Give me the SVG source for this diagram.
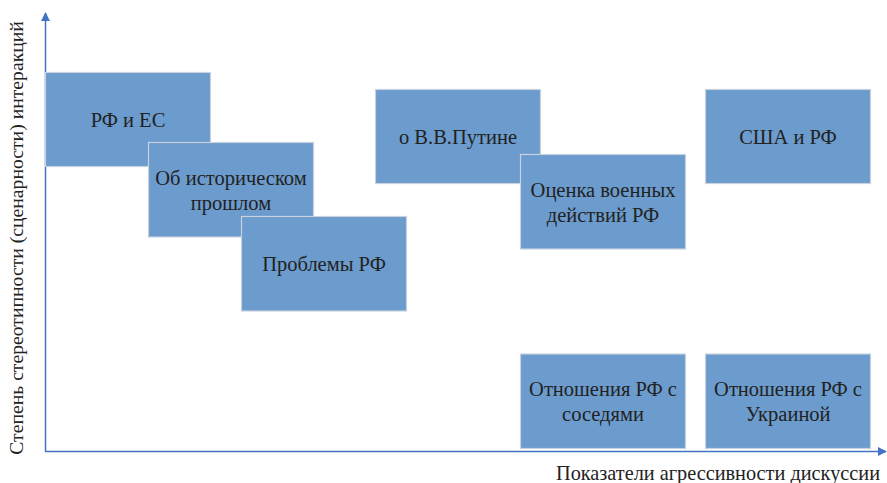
<svg xmlns="http://www.w3.org/2000/svg" width="887" height="483" viewBox="0 0 887 483">
  <style>
    .box { fill: #6c9bcd; stroke: #c8d2de; stroke-width: 1.2; }
    .lbl { font-family: 'Liberation Serif', 'DejaVu Serif', serif; font-size: 20.5px; fill: #222222; text-anchor: middle; }
    .axis { stroke: #4472c4; stroke-width: 1.5; fill: none; }
    .axlbl { font-family: 'Liberation Serif', 'DejaVu Serif', serif; font-size: 20.3px; fill: #222222; }
  </style>
  <defs>
    <marker id="arrow" viewBox="0 0 10 10" refX="9" refY="5" markerWidth="6" markerHeight="6" markerUnits="strokeWidth" orient="auto">
      <path d="M0,0 L10,5 L0,10 z" fill="#4472c4"/>
    </marker>
  </defs>
  <rect width="887" height="483" fill="#ffffff"/>

  <!-- axes -->
  <g id="connectors">
    <line class="axis" x1="45.5" y1="451.5" x2="45.5" y2="13" marker-end="url(#arrow)"/>
    <line class="axis" x1="45" y1="451.5" x2="886" y2="451.5" marker-end="url(#arrow)"/>
  </g>

  <g id="node-rf-es">
    <rect class="box" x="45.5" y="72.5" width="165" height="94"/>
    <text class="lbl" x="128" y="126.5">РФ и ЕС</text>
  </g>
  <g id="node-history">
    <rect class="box" x="148.5" y="142.5" width="165" height="94.5"/>
    <text class="lbl" x="231" y="185">Об историческом</text>
    <text class="lbl" x="231" y="210">прошлом</text>
  </g>
  <g id="node-problems">
    <rect class="box" x="241.5" y="216.5" width="165" height="94.5"/>
    <text class="lbl" x="324" y="270.5">Проблемы РФ</text>
  </g>
  <g id="node-putin">
    <rect class="box" x="375.5" y="89.5" width="165" height="94"/>
    <text class="lbl" x="458" y="143.5">о В.В.Путине</text>
  </g>
  <g id="node-military">
    <rect class="box" x="520.5" y="154.5" width="165" height="94.5"/>
    <text class="lbl" x="603" y="197">Оценка военных</text>
    <text class="lbl" x="603" y="222">действий РФ</text>
  </g>
  <g id="node-usa">
    <rect class="box" x="705.5" y="89.5" width="165" height="94"/>
    <text class="lbl" x="788" y="143.5">США и РФ</text>
  </g>
  <g id="node-neighbours">
    <rect class="box" x="520.5" y="354" width="165" height="94.5"/>
    <text class="lbl" x="603" y="396">Отношения РФ с</text>
    <text class="lbl" x="603" y="421">соседями</text>
  </g>
  <g id="node-ukraine">
    <rect class="box" x="705.5" y="354" width="165" height="94.5"/>
    <text class="lbl" x="788" y="396">Отношения РФ с</text>
    <text class="lbl" x="788" y="421">Украиной</text>
  </g>

  <text class="axlbl" x="880" y="479.5" text-anchor="end">Показатели агрессивности дискуссии</text>
  <text class="axlbl" style="font-size:19.7px" transform="translate(23,238) rotate(-90)" text-anchor="middle">Степень стереотипности (сценарности) интеракций</text>
</svg>
